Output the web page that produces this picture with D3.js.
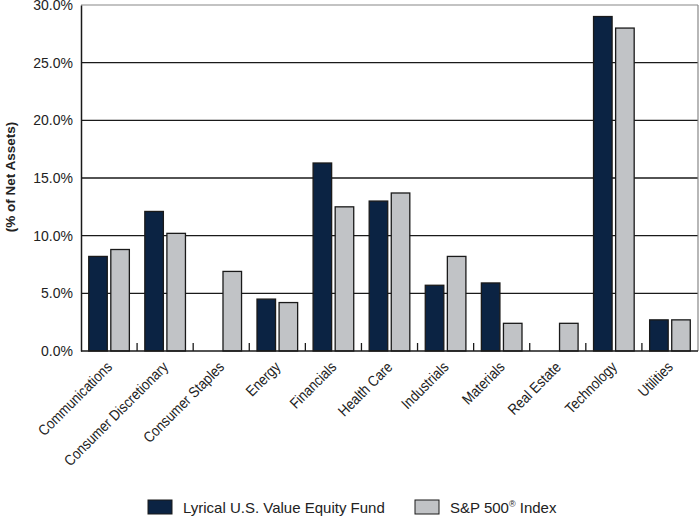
<!DOCTYPE html>
<html><head><meta charset="utf-8">
<script src="https://cdn.jsdelivr.net/npm/d3@7"></script>
<style>
body{margin:0;background:#fff;}
svg text{font-family:"Liberation Sans",Arial,sans-serif;fill:#222;}
</style></head>
<body><svg id="c" width="700" height="518"></svg>
<script>
const categories = ["Communications","Consumer Discretionary","Consumer Staples","Energy","Financials","Health Care","Industrials","Materials","Real Estate","Technology","Utilities"];
const fundValues = [8.2,12.1,0,4.5,16.3,13.0,5.7,5.9,0,29.0,2.7];
const indexValues = [8.8,10.2,6.9,4.2,12.5,13.7,8.2,2.4,2.4,28.0,2.7];
const seriesNames = ["Lyrical U.S. Value Equity Fund","S&P 500\u00AE Index"];
const yTicks = [0,5,10,15,20,25,30];

const svg = d3.select("#c");
const L=81, R=698, T=5, B=351;
const x = d3.scaleBand().domain(categories).range([L,R]).paddingInner(0).paddingOuter(0);
const sub = d3.scaleBand().domain([0,1]).range([0,x.bandwidth()]).paddingInner(0.16).paddingOuter(0.35);
const y = d3.scaleLinear().domain([0,30]).range([B,T]);
const colors = ["#0b2343","#c1c3c6"];

// gridlines
svg.append("g").selectAll("line").data(yTicks.filter(d=>d>0&&d<30)).join("line")
  .attr("x1",L).attr("x2",R).attr("y1",d=>y(d)).attr("y2",d=>y(d))
  .attr("stroke","#1a1a1a").attr("stroke-width",1.3);

// frame
svg.append("line").attr("x1",L).attr("x2",R).attr("y1",T).attr("y2",T).attr("stroke","#888").attr("stroke-width",1.2);
svg.append("line").attr("x1",R).attr("x2",R).attr("y1",T).attr("y2",B).attr("stroke","#888").attr("stroke-width",1.2);

// bars
const data = categories.map((c,i)=>({c, v:[fundValues[i],indexValues[i]]}));
const g = svg.append("g");
data.forEach(d=>{
  d.v.forEach((v,k)=>{
    if(v<=0) return;
    g.append("rect").attr("x",x(d.c)+sub(k)).attr("width",sub.bandwidth())
      .attr("y",y(v)).attr("height",B-y(v))
      .attr("fill",colors[k]).attr("stroke","#1a1a1a").attr("stroke-width",1.3);
  });
});

// y axis
const ya = d3.axisLeft(y).tickValues(yTicks).tickFormat(d=>d.toFixed(1)+"%").tickSize(0).tickPadding(8);
const yg = svg.append("g").attr("transform",`translate(${L},0)`).call(ya);
yg.select(".domain").attr("stroke","#1a1a1a").attr("stroke-width",1.5);
yg.selectAll("text").attr("font-size","14px").attr("font-family",null).attr("fill","#222");

// x axis
const xg = svg.append("g").attr("transform",`translate(0,${B})`);
xg.append("line").attr("x1",L).attr("x2",R).attr("stroke","#1a1a1a").attr("stroke-width",1.5);
xg.selectAll("line.tk").data(categories.slice(1)).join("line").attr("class","tk")
  .attr("x1",d=>x(d)).attr("x2",d=>x(d)).attr("y1",0).attr("y2",-8).attr("stroke","#1a1a1a").attr("stroke-width",1.3);
xg.selectAll("text").data(categories).join("text")
  .attr("transform",d=>`translate(${x(d)+x.bandwidth()/2+4},17) rotate(-45) scale(0.87,1)`)
  .attr("text-anchor","end").attr("font-size","15px").text(d=>d);

// y title
svg.append("text").attr("transform","translate(15,177) rotate(-90)").attr("text-anchor","middle")
  .attr("font-size","13.5px").attr("font-weight","bold").text("(% of Net Assets)");

// legend
const lg = svg.append("g");
const lx = [148,415];
seriesNames.forEach((n,k)=>{
  lg.append("rect").attr("x",lx[k]).attr("y",500).attr("width",24).attr("height",14)
    .attr("fill",colors[k]).attr("stroke","#1a1a1a").attr("stroke-width",1);
  const t = lg.append("text").attr("x",lx[k]+35).attr("y",512.5).attr("font-size","15px");
  if(k===0) t.text(n);
  else { t.append("tspan").text("S&P 500"); t.append("tspan").attr("font-size","9px").attr("dy",-6).text("\u00AE"); t.append("tspan").attr("dy",6).text(" Index"); }
});
</script></body></html>
